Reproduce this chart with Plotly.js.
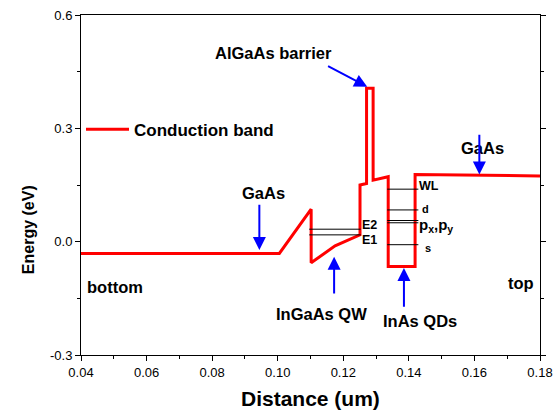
<!DOCTYPE html>
<html>
<head>
<meta charset="utf-8">
<script src="https://cdn.plot.ly/plotly-3.0.1.min.js"></script>
<style>html,body{margin:0;padding:0;background:#fff;}#chart{width:557px;height:412px;}</style>
</head>
<body>
<div id="chart"></div>
<script>
// Conduction band profile (distance in um, energy in eV)
var bandX = [0.04, 0.1005, 0.1102, 0.1102, 0.1175, 0.1251, 0.1251, 0.1271, 0.1271, 0.1291, 0.1291, 0.1337, 0.1337, 0.1419, 0.1419, 0.18];
var bandY = [-0.031, -0.031, 0.086, -0.056, -0.011, 0.018, 0.150, 0.154, 0.406, 0.406, 0.163, 0.172, -0.066, -0.066, 0.178, 0.174];

// Quantum well levels
var qwLevelNames = ["E2", "E1"];
var qwLevelEnergy = [0.033, 0.018];
var qwLevelRange = [0.1096, 0.1253];

// Quantum dot levels
var qdLevelNames = ["WL", "d", "px", "py", "s"];
var qdLevelEnergy = [0.139, 0.084, 0.056, 0.050, -0.008];
var qdLevelRange = [0.1334, 0.1429];

// Axis ticks
var xTickVals = [0.04, 0.06, 0.08, 0.10, 0.12, 0.14, 0.16, 0.18];
var xTickText = ["0.04", "0.06", "0.08", "0.10", "0.12", "0.14", "0.16", "0.18"];
var yTickVals = [-0.3, 0.0, 0.3, 0.6];
var yTickText = ["-0.3", "0.0", "0.3", "0.6"];

var traces = [];
traces.push({
  x: bandX, y: bandY, type: 'scatter', mode: 'lines',
  name: 'Conduction band',
  line: {color: '#ff0000', width: 3},
  showlegend: true
});
qwLevelEnergy.forEach(function (e, i) {
  traces.push({x: qwLevelRange, y: [e, e], type: 'scatter', mode: 'lines',
    name: qwLevelNames[i], line: {color: '#000000', width: 1}, showlegend: false});
});
qdLevelEnergy.forEach(function (e, i) {
  traces.push({x: qdLevelRange, y: [e, e], type: 'scatter', mode: 'lines',
    name: qdLevelNames[i], line: {color: '#000000', width: 1}, showlegend: false});
});

var fam = 'Liberation Sans, Arial, sans-serif';
var bold = {family: fam, size: 16.5, color: '#000', weight: 'bold'};
var small = {family: fam, size: 12.5, color: '#000', weight: 'bold'};

function txt(t, x, y, f) {
  return {text: t, x: x, y: y, xref: 'x', yref: 'y', showarrow: false, xanchor: 'center', yanchor: 'middle', font: f};
}
function arrow(xt, yt, xa, ya) {
  return {text: '', x: xt, y: yt, ax: xa, ay: ya, xref: 'x', yref: 'y', axref: 'x', ayref: 'y',
    showarrow: true, arrowhead: 2, arrowsize: 1.3, arrowwidth: 2, arrowcolor: '#0000ff', standoff: 0};
}

var annotations = [
  txt('AlGaAs barrier', 0.0987, 0.500, bold),
  arrow(0.1273, 0.410, 0.1149, 0.467),
  txt('GaAs', 0.0957, 0.130, bold),
  arrow(0.0944, -0.022, 0.0944, 0.102),
  txt('InGaAs QW', 0.1134, -0.191, bold),
  arrow(0.1172, -0.040, 0.1172, -0.141),
  txt('InAs QDs', 0.1433, -0.210, bold),
  arrow(0.1385, -0.070, 0.1385, -0.176),
  txt('GaAs', 0.1626, 0.248, bold),
  arrow(0.1615, 0.178, 0.1615, 0.287),
  txt('bottom', 0.0504, -0.120, bold),
  txt('top', 0.1743, -0.109, bold),
  txt('E2', 0.1279, 0.043, small),
  txt('E1', 0.1279, 0.0045, small),
  txt('WL', 0.1461, 0.147, small),
  txt('d', 0.1452, 0.0865, {family: fam, size: 11, color: '#000', weight: 'bold'}),
  txt('p<sub>x</sub>,p<sub>y</sub>', 0.1484, 0.044, {family: fam, size: 15, color: '#000', weight: 'bold'}),
  txt('s', 0.1458, -0.017, {family: fam, size: 11, color: '#000', weight: 'bold'}),
  {text: 'Distance (um)', xref: 'paper', yref: 'paper', x: 0.5, y: -0.129, showarrow: false,
    xanchor: 'center', yanchor: 'middle', font: {family: fam, size: 21, color: '#000', weight: 'bold'}},
  {text: 'Energy (eV)', xref: 'paper', yref: 'paper', x: -0.1155, y: 0.37, showarrow: false, textangle: -90,
    xanchor: 'center', yanchor: 'middle', font: {family: fam, size: 16, color: '#000', weight: 'bold'}}
];

var axisCommon = {
  showline: true, linecolor: '#000', linewidth: 1,
  ticks: 'outside', ticklen: 5, tickwidth: 1, tickcolor: '#000',
  showgrid: false, zeroline: false,
  tickfont: {family: fam, size: 13, color: '#000'}
};

var layout = {
  width: 557, height: 412,
  margin: {l: 81, r: 17, t: 15, b: 57},
  paper_bgcolor: '#fff', plot_bgcolor: '#fff',
  xaxis: Object.assign({}, axisCommon, {
    mirror: true,
    range: [0.04, 0.18], tickmode: 'array', tickvals: xTickVals, ticktext: xTickText,
    minor: {dtick: 0.01, tick0: 0.04, ticks: 'outside', ticklen: 3, tickcolor: '#000', showgrid: false}
  }),
  yaxis: Object.assign({}, axisCommon, {
    mirror: 'allticks',
    range: [-0.3, 0.6], tickmode: 'array', tickvals: yTickVals, ticktext: yTickText,
    minor: {dtick: 0.15, tick0: -0.3, ticks: 'outside', ticklen: 3, tickcolor: '#000', showgrid: false}
  }),
  showlegend: true,
  legend: {x: 0.0, y: 0.663, xanchor: 'left', yanchor: 'middle', bgcolor: 'rgba(0,0,0,0)',
    itemwidth: 43, font: {family: fam, size: 17, color: '#000', weight: 'bold'}},
  annotations: annotations
};

Plotly.newPlot('chart', traces, layout, {displayModeBar: false, staticPlot: true});
</script>
</body>
</html>
